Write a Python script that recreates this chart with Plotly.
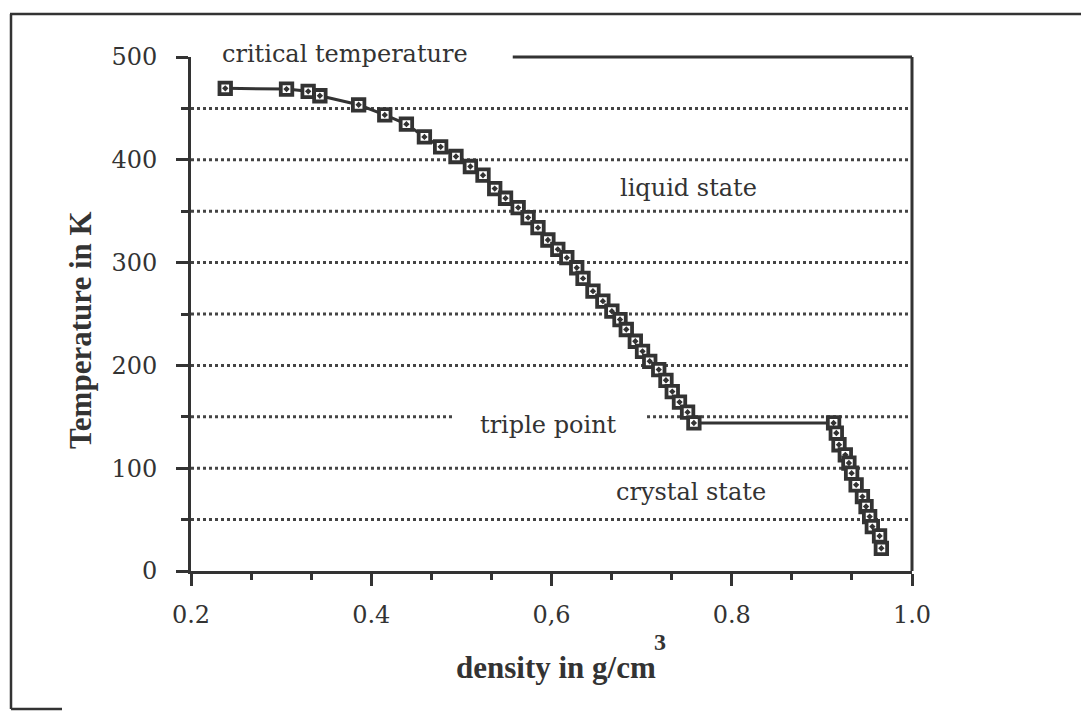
import plotly.graph_objects as go

# ---- data ----
density = [0.238, 0.306, 0.330, 0.343, 0.386, 0.415, 0.439, 0.459, 0.477, 0.494,
           0.510, 0.524, 0.537, 0.549, 0.563, 0.574, 0.585, 0.596, 0.607, 0.617,
           0.628, 0.635, 0.646, 0.657, 0.667, 0.676, 0.683, 0.693, 0.701, 0.709,
           0.719, 0.727, 0.734, 0.742, 0.751, 0.758,
           0.913, 0.916, 0.919, 0.926, 0.930, 0.933, 0.938, 0.945, 0.949, 0.953,
           0.956, 0.964, 0.966]
temperature = [469.5, 468.8, 466.6, 462.3, 453.5, 443.7, 434.7, 422.3, 412.6, 403.2,
               393.5, 385.0, 372.0, 362.6, 353.5, 343.8, 334.0, 322.0, 312.9, 304.8,
               295.0, 284.6, 272.2, 262.5, 252.7, 244.6, 234.9, 223.5, 213.7, 204.0,
               195.9, 185.5, 174.5, 164.3, 154.5, 144.0,
               144.0, 134.2, 122.8, 113.0, 105.0, 95.2, 83.8, 72.4, 62.7, 52.9,
               43.2, 34.1, 22.1]

x_ticks = [0.2, 0.4, 0.6, 0.8, 1.0]
x_ticklabels = ["0.2", "0.4", "0,6", "0.8", "1.0"]
y_ticks = [0, 100, 200, 300, 400, 500]
y_ticklabels = ["0", "100", "200", "300", "400", "500"]
grid_levels = [50, 100, 150, 200, 250, 300, 350, 400, 450]

labels = ["critical temperature", "liquid state", "triple point", "crystal state"]
label_x = [0.371, 0.752, 0.597, 0.755]
label_y = [503, 373, 142, 77]

INK = "#333333"
SERIF = "DejaVu Serif"
TITLE_FONT = "Liberation Serif"

# plot area geometry (pixels)
L, R, T, B = 191, 169, 57, 140
W, H = 1081, 711
PW, PH = W - L - R, H - T - B
XMIN, XMAX, YMIN, YMAX = 0.2, 1.0, 0, 500


def px_x(px):
    return (px - L) / PW


def px_y(py):
    return (H - B - py) / PH


def dx(v):  # data x -> paper
    return (v - XMIN) / (XMAX - XMIN)


def dy(v):  # data y -> paper
    return (v - YMIN) / (YMAX - YMIN)


fig = go.Figure()

fig.add_trace(go.Scatter(
    x=density, y=temperature, mode="lines+markers",
    line=dict(color=INK, width=3),
    marker=dict(symbol="square-dot", size=11.5, color="white",
                line=dict(color=INK, width=3.8)),
    showlegend=False, cliponaxis=False,
))

shapes = []
# wavy (dotted) grid lines
for g in grid_levels:
    if g == 150:
        segs = [(0.2, 0.490), (0.706, 1.0)]
    else:
        segs = [(0.2, 1.0)]
    for a, b in segs:
        shapes.append(dict(type="line", xref="paper", yref="paper",
                           x0=dx(a), x1=dx(b), y0=dy(g), y1=dy(g),
                           line=dict(color="#444444", width=3, dash="dot"), layer="below"))

# axis frame lines (right side and partial top)
frame = dict(color=INK, width=3)
shapes += [
    dict(type="line", xref="paper", yref="paper", x0=1, x1=1, y0=0, y1=1, line=frame),
    dict(type="line", xref="paper", yref="paper", x0=dx(0.557), x1=1, y0=1, y1=1, line=frame),
]
# outer page frame
page = dict(color=INK, width=2.5)
shapes += [
    dict(type="line", xref="paper", yref="paper", x0=px_x(10), x1=px_x(1081),
         y0=px_y(14), y1=px_y(14), line=page),
    dict(type="line", xref="paper", yref="paper", x0=px_x(11), x1=px_x(11),
         y0=px_y(14), y1=px_y(709), line=page),
    dict(type="line", xref="paper", yref="paper", x0=px_x(11), x1=px_x(62),
         y0=px_y(709), y1=px_y(709), line=page),
]

annotations = []
for t, xv, yv in zip(labels, label_x, label_y):
    annotations.append(dict(text=t, x=dx(xv), y=dy(yv), xref="paper", yref="paper",
                            xanchor="center", yanchor="middle", showarrow=False,
                            font=dict(family=SERIF, size=24, color=INK)))

annotations += [
    dict(text="<b>Temperature in K</b>", x=px_x(80), y=px_y(330), xref="paper", yref="paper",
         xanchor="center", yanchor="middle",
         textangle=-90, showarrow=False, font=dict(family=TITLE_FONT, size=31, color=INK)),
    dict(text="<b>density in g/cm</b>", x=px_x(556), y=px_y(667), xref="paper", yref="paper",
         xanchor="center", yanchor="middle",
         showarrow=False, font=dict(family=TITLE_FONT, size=31, color=INK)),
    dict(text="<b>3</b>", x=px_x(660), y=px_y(642), xref="paper", yref="paper",
         xanchor="center", yanchor="middle",
         showarrow=False, font=dict(family=TITLE_FONT, size=24, color=INK)),
]

fig.update_layout(
    width=W, height=H,
    margin=dict(l=L, r=R, t=T, b=B, pad=0),
    paper_bgcolor="white", plot_bgcolor="white",
    shapes=shapes, annotations=annotations,
    xaxis=dict(range=[XMIN, XMAX], tickvals=x_ticks, ticktext=x_ticklabels,
               showgrid=False, zeroline=False,
               showline=True, linewidth=3, linecolor=INK,
               ticks="outside", ticklen=12, tickwidth=3, tickcolor=INK,
               ticklabelstandoff=8,
               tickfont=dict(family=SERIF, size=24, color=INK),
               minor=dict(tick0=0.2, dtick=0.2 / 3, ticks="outside", ticklen=6,
                          tickwidth=3, tickcolor=INK, showgrid=False)),
    yaxis=dict(range=[YMIN, YMAX], tickvals=y_ticks, ticktext=y_ticklabels,
               showgrid=False, zeroline=False,
               showline=True, linewidth=3, linecolor=INK,
               ticks="outside", ticklen=12, tickwidth=3, tickcolor=INK,
               ticklabelstandoff=14,
               tickfont=dict(family=SERIF, size=24, color=INK),
               minor=dict(tick0=0, dtick=50, ticks="outside", ticklen=7,
                          tickwidth=3, tickcolor=INK, showgrid=False)),
)

fig.write_html("out.html")
